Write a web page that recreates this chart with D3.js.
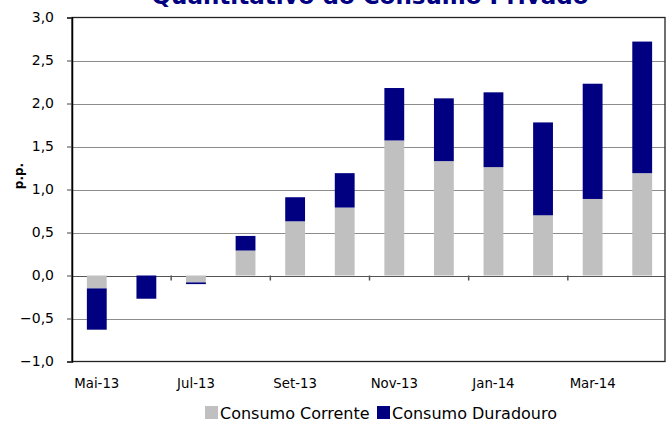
<!DOCTYPE html>
<html>
<head>
<meta charset="utf-8">
<script src="https://cdn.jsdelivr.net/npm/d3@7"></script>
<style>
  body { margin: 0; background: #fff; }
  text { font-family: "DejaVu Sans", Verdana, sans-serif; }
</style>
</head>
<body>
<div id="canvas"></div>
<script>
const months = ["Mai-13", "Jun-13", "Jul-13", "Ago-13", "Set-13", "Out-13",
    "Nov-13", "Dez-13", "Jan-14", "Fev-14", "Mar-14", "Abr-14"];
const corrente = [-0.15, 0.00, -0.08, 0.29, 0.63, 0.79, 1.57, 1.33, 1.26, 0.70, 0.89, 1.19];
const duradouro = [-0.48, -0.27, -0.02, 0.17, 0.28, 0.40, 0.61, 0.73, 0.87, 1.08, 1.34, 1.53];
const yTicks = [-1, -0.5, 0, 0.5, 1, 1.5, 2, 2.5, 3];
const xLabels = ["Mai-13", "Jul-13", "Set-13", "Nov-13", "Jan-14", "Mar-14"];
const seriesNames = ["Consumo Corrente", "Consumo Duradouro"];
const colors = ["#c0c0c0", "#000080"];

const width = 672;
const height = 423;

const svg = d3.select("#canvas").append("svg")
    .attr("width", width)
    .attr("height", height);

const x = d3.scaleBand()
    .domain(months)
    .range([72, 667])
    .paddingInner(0.6)
    .paddingOuter(0.3);

const y = d3.scaleLinear()
    .domain([-1, 3])
    .range([361.5, 17.5]);

const pt = d3.formatLocale({ decimal: ",", thousands: ".", grouping: [3], currency: ["", "€"] });
const fmt = pt.format(".1f");

// title (cut off at the top in the original)
svg.append("text")
    .attr("x", 370)
    .attr("y", 3.5)
    .attr("text-anchor", "middle")
    .style("font-size", "23px")
    .style("font-weight", "bold")
    .style("fill", "#000080")
    .text("Quantitativo do Consumo Privado");

// gridlines
svg.append("g")
    .selectAll("line")
    .data(yTicks.filter(d => d > -1 && d < 3))
    .join("line")
    .attr("x1", 72)
    .attr("x2", 665)
    .attr("y1", d => Math.round(y(d)) + 0.5)
    .attr("y2", d => Math.round(y(d)) + 0.5)
    .attr("stroke", d => d === 0 ? "#555" : "#8c8c8c")
    .attr("stroke-width", 1.2);

// stacked bars
const rows = months.map((m, i) => ({ month: m, corrente: corrente[i], duradouro: duradouro[i] }));
const stacked = d3.stack()
    .keys(["corrente", "duradouro"])
    .offset(d3.stackOffsetDiverging)(rows);

svg.append("g")
    .selectAll("g")
    .data(stacked)
    .join("g")
    .attr("fill", (d, i) => colors[i])
    .selectAll("rect")
    .data(d => d)
    .join("rect")
    .attr("x", d => x(d.data.month))
    .attr("width", x.bandwidth())
    .attr("y", d => y(Math.max(d[0], d[1])))
    .attr("height", d => Math.abs(y(d[0]) - y(d[1])));

// frame
svg.append("rect")
    .attr("x", 72)
    .attr("y", y(3))
    .attr("width", 593)
    .attr("height", y(-1) - y(3))
    .attr("fill", "none")
    .attr("stroke", "#222")
    .attr("stroke-width", 1.3);

// boundary ticks on the zero line
const tickIdx = [2, 4, 6, 8, 10];
svg.append("g")
    .selectAll("line")
    .data(tickIdx)
    .join("line")
    .attr("x1", i => x(months[i]) - x.step() * 0.3)
    .attr("x2", i => x(months[i]) - x.step() * 0.3)
    .attr("y1", y(0))
    .attr("y2", y(0) + 5)
    .attr("stroke", "#555")
    .attr("stroke-width", 1.5);

// y axis
const yAxis = svg.append("g")
    .attr("transform", "translate(72,0)")
    .call(d3.axisLeft(y).tickValues(yTicks).tickFormat(fmt).tickSize(5).tickPadding(13));
yAxis.select(".domain").attr("stroke", "#000").attr("stroke-width", 1.5);
yAxis.selectAll(".tick line").attr("stroke", "#444");
yAxis.selectAll(".tick text")
    .style("font-size", "14px")
    .style("font-family", "DejaVu Sans, Verdana, sans-serif")
    .attr("fill", "#000");

// x labels
const xAxis = svg.append("g")
    .attr("transform", `translate(0,${y(-1)})`)
    .call(d3.axisBottom(x).tickValues(xLabels).tickSize(0).tickPadding(17));
xAxis.select(".domain").remove();
xAxis.selectAll(".tick text")
    .style("font-size", "13.3px")
    .style("font-family", "DejaVu Sans, Verdana, sans-serif")
    .attr("fill", "#000");

// y label
svg.append("text")
    .attr("transform", "translate(23,176) rotate(-90)")
    .attr("text-anchor", "middle")
    .style("font-size", "12px")
    .style("font-weight", "bold")
    .text("p.p.");

// legend
const legend = svg.append("g");
const legendX = [205, 377];
seriesNames.forEach((name, i) => {
    legend.append("rect")
        .attr("x", legendX[i])
        .attr("y", 406)
        .attr("width", 13)
        .attr("height", 13)
        .attr("fill", colors[i]);
    legend.append("text")
        .attr("x", legendX[i] + 15)
        .attr("y", 419)
        .style("font-size", "16px")
        .text(name);
});
</script>
</body>
</html>
